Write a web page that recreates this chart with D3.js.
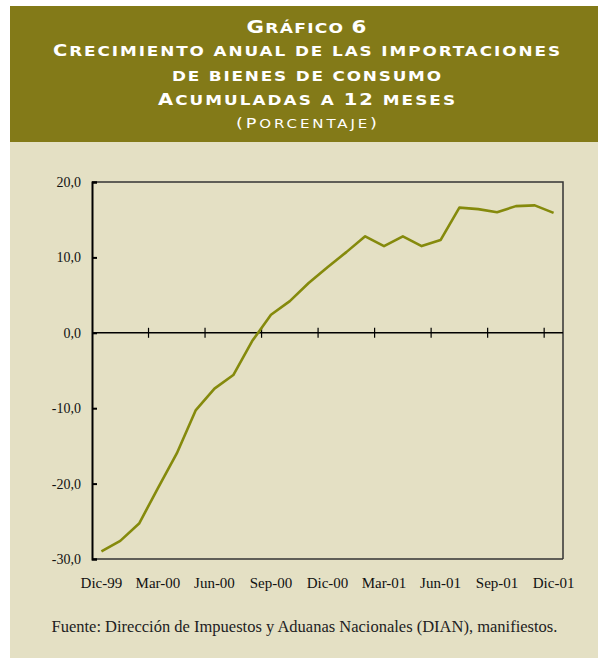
<!DOCTYPE html>
<html>
<head>
<meta charset="utf-8">
<script src="https://cdn.jsdelivr.net/npm/d3@7"></script>
<style>
  body { margin: 0; background: #fff; }
</style>
</head>
<body>
<script>
const svgWidth = 598;
const svgHeight = 661;

// data (monthly, Dic-99 .. Dic-01)
const months = ["Dic-99", "Ene-00", "Feb-00", "Mar-00", "Abr-00", "May-00", "Jun-00", "Jul-00", "Ago-00",
    "Sep-00", "Oct-00", "Nov-00", "Dic-00", "Ene-01", "Feb-01", "Mar-01", "Abr-01", "May-01", "Jun-01",
    "Jul-01", "Ago-01", "Sep-01", "Oct-01", "Nov-01", "Dic-01"];
const growth = [-29.0, -27.6, -25.3, -20.6, -16.0, -10.3, -7.4, -5.6, -1.1,
    2.4, 4.2, 6.6, 8.7, 10.7, 12.8, 11.5, 12.8, 11.5, 12.3,
    16.6, 16.4, 16.0, 16.8, 16.9, 15.9];
const labeledMonths = ["Dic-99", "Mar-00", "Jun-00", "Sep-00", "Dic-00", "Mar-01", "Jun-01", "Sep-01", "Dic-01"];
const yTicks = [20, 10, 0, -10, -20, -30];
const titleLines = ["Gráfico 6", "Crecimiento anual de las importaciones", "de bienes de consumo", "Acumuladas a 12 meses", "(Porcentaje)"];

const svg = d3.select("body").append("svg").attr("width", svgWidth).attr("height", svgHeight);

// panels
svg.append("rect").attr("x", 10).attr("y", 142).attr("width", 588).attr("height", 516).attr("fill", "#e4e0c4");
svg.append("rect").attr("x", 10).attr("y", 6).attr("width", 588).attr("height", 136).attr("fill", "#837a18");

// title in hand-made small caps: capitals big, the rest upper-cased smaller,
// stretched sideways to get the wide engraved look
const titleFont = "'DejaVu Sans', Verdana, sans-serif";
const titleBase = [33, 56, 80.5, 105, 128];
const titleWidth = [120, 507, 269, 297, 141];
const capSize = [17.5, 16, 16, 16, 14.5];
const smallSize = [14, 13.8, 13.8, 13.8, 12.3];
const stretch = 1.22;

function capRuns(t) {
    const runs = [];
    for (const ch of t) {
        const big = ch !== ch.toLowerCase() || /[0-9()]/.test(ch);
        const last = runs[runs.length - 1];
        if (last && last.big === big) last.s += ch;
        else runs.push({ big: big, s: ch });
    }
    return runs;
}

titleLines.forEach(function (t, i) {
    const txt = svg.append("text")
        .attr("transform", `translate(306.5,${titleBase[i]}) scale(${stretch},1)`)
        .attr("text-anchor", "middle")
        .attr("fill", "#fff")
        .attr("font-family", titleFont)
        .attr("font-weight", i < 4 ? "bold" : "normal")
        .attr("textLength", titleWidth[i] / stretch)
        .attr("lengthAdjust", "spacing");
    capRuns(t).forEach(function (r) {
        txt.append("tspan")
            .attr("font-size", r.big ? capSize[i] : smallSize[i])
            .text(r.s.toUpperCase());
    });
});

// plot area
const plotLeft = 92, plotRight = 563, plotTop = 182, plotBottom = 559;

const x = d3.scaleBand().domain(months).range([plotLeft, plotRight]);
const y = d3.scaleLinear().domain([-30, 20]).range([plotBottom, plotTop]);

const fmt = function (d) { return d3.format(".1f")(d).replace(".", ",").replace("−", "-"); };
const serif = "'Liberation Serif', 'Times New Roman', serif";

// frame (top and right)
svg.append("path")
    .attr("d", `M${plotLeft},${plotTop}H${plotRight}V${plotBottom}`)
    .attr("fill", "none").attr("stroke", "#333").attr("stroke-width", 1.5);

// bottom edge
svg.append("line")
    .attr("x1", plotLeft).attr("x2", plotRight).attr("y1", plotBottom).attr("y2", plotBottom)
    .attr("stroke", "#333").attr("stroke-width", 1.5);

// y axis
const yAxis = svg.append("g")
    .attr("transform", `translate(${plotLeft},0)`)
    .call(d3.axisLeft(y).tickValues(yTicks).tickSize(-5).tickPadding(11).tickFormat(fmt));
yAxis.select(".domain").attr("stroke", "#000").attr("stroke-width", 2);
yAxis.selectAll(".tick line").attr("stroke", "#000").attr("stroke-width", 2);
yAxis.selectAll("text")
    .attr("font-family", serif)
    .attr("font-size", 14).attr("fill", "#111");

// zero line with ticks on band boundaries every 3 months
svg.append("line")
    .attr("x1", plotLeft).attr("x2", plotRight).attr("y1", y(0)).attr("y2", y(0))
    .attr("stroke", "#000").attr("stroke-width", 1.5);
const boundaryTicks = months.filter(function (d, i) { return i > 0 && i % 3 === 0; });
svg.selectAll(".ztick").data(boundaryTicks).join("line")
    .attr("class", "ztick")
    .attr("x1", function (d) { return x(d); }).attr("x2", function (d) { return x(d); })
    .attr("y1", y(0) - 5).attr("y2", y(0) + 5)
    .attr("stroke", "#000").attr("stroke-width", 1.2);

// x labels
const xAxis = svg.append("g")
    .attr("transform", `translate(0,${plotBottom})`)
    .call(d3.axisBottom(x).tickValues(labeledMonths).tickSize(0).tickPadding(18));
xAxis.select(".domain").remove();
xAxis.selectAll("text")
    .attr("font-family", serif)
    .attr("font-size", 15).attr("fill", "#111");

// line
const line = d3.line()
    .x(function (d, i) { return x(months[i]) + x.bandwidth() / 2; })
    .y(function (d) { return y(d); });

svg.append("path")
    .datum(growth)
    .attr("d", line)
    .attr("fill", "none")
    .attr("stroke", "#858a0c")
    .attr("stroke-width", 2.6)
    .attr("stroke-linejoin", "round");

// source
svg.append("text")
    .attr("x", 51.5).attr("y", 631.5)
    .attr("font-family", serif)
    .attr("font-size", 16.5).attr("fill", "#222")
    .text("Fuente: Dirección de Impuestos y Aduanas Nacionales (DIAN), manifiestos.");
</script>
</body>
</html>
